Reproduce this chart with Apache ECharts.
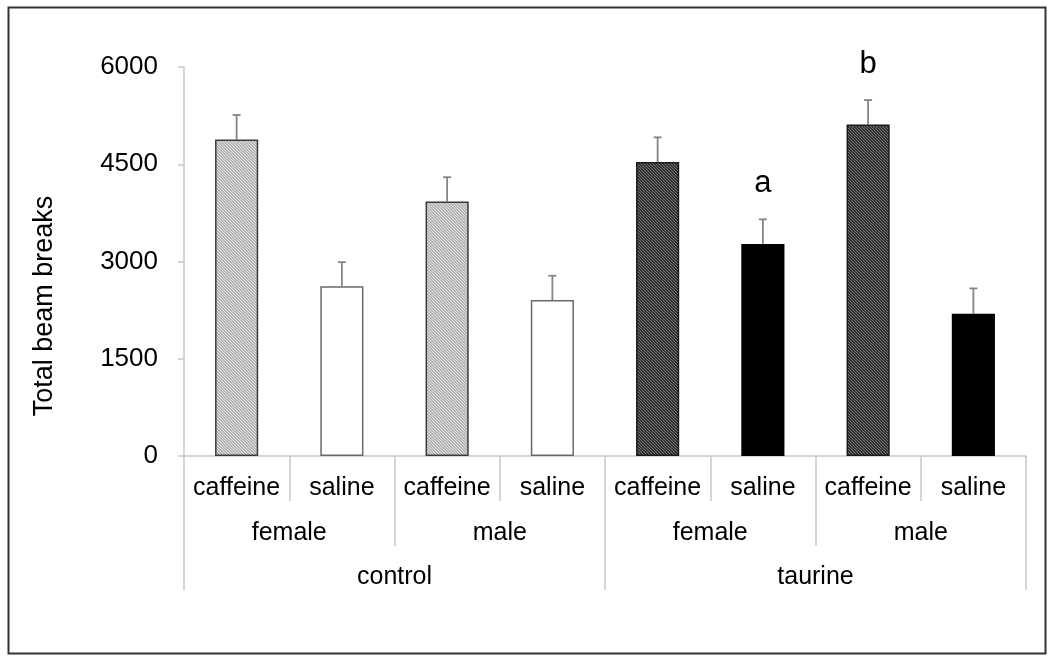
<!DOCTYPE html>
<html>
<head>
<meta charset="utf-8">
<script src="https://cdn.jsdelivr.net/npm/echarts@6/dist/echarts.min.js"></script>
<style>
html,body{margin:0;padding:0;background:#fff;}
#chart{width:1050px;height:659px;}
</style>
</head>
<body>
<div id="chart"></div>
<script>
// ---- data ----
var drugs = ['caffeine', 'saline', 'caffeine', 'saline', 'caffeine', 'saline', 'caffeine', 'saline'];
var sexes = ['female', 'male', 'female', 'male'];
var treatments = ['control', 'taurine'];
var means = [4880, 2620, 3925, 2405, 4535, 3270, 5115, 2195];
var errors = [380, 370, 375, 375, 380, 380, 375, 390];
var sigLetters = ['', '', '', '', '', 'a', 'b', ''];
var yTicks = [0, 1500, 3000, 4500, 6000];
var yTitle = 'Total beam breaks';

// ---- patterns ----
function hatch(bg, fg) {
  var c = document.createElement('canvas');
  c.width = 3; c.height = 3;
  var g = c.getContext('2d');
  g.fillStyle = bg; g.fillRect(0, 0, 3, 3);
  g.fillStyle = fg;
  for (var i = 0; i < 3; i++) g.fillRect(i, i, 1, 1);
  return { image: c, repeat: 'repeat' };
}
var styles = {
  'control-caffeine': { color: hatch('#b2b2b2', '#e6e6e6'), borderColor: '#3a3a3a' },
  'control-saline': { color: '#ffffff', borderColor: '#6a6a6a' },
  'taurine-caffeine': { color: hatch('#2e2e2e', '#7a7a7a'), borderColor: '#1a1a1a' },
  'taurine-saline': { color: '#000000', borderColor: '#000000' }
};

var barData = means.map(function (v, i) {
  var t = treatments[Math.floor(i / 4)];
  var s = styles[t + '-' + drugs[i]];
  return { value: v, itemStyle: { color: s.color, borderColor: s.borderColor, borderWidth: 1.5 } };
});
var errData = means.map(function (v, i) { return [i, v, v + errors[i], sigLetters[i]]; });

var FONT = 'Liberation Sans, Arial, sans-serif';
var chart = echarts.init(document.getElementById('chart'), null, { renderer: 'canvas' });
chart.setOption({
  animation: false,
  backgroundColor: '#fff',
  graphic: [{
    type: 'rect', left: 6, top: 5, z: -1,
    shape: { width: 1037, height: 646 },
    style: { fill: 'none', stroke: '#333', lineWidth: 2 }
  }, {
    type: 'text', x: 45, y: 306, rotation: Math.PI / 2,
    style: { text: yTitle, fontFamily: FONT, fontSize: 27, fill: '#000', align: 'center', verticalAlign: 'middle' }
  }],
  grid: { left: 184, right: 24, top: 67, bottom: 203 },
  xAxis: [{
    type: 'category', data: drugs, position: 'bottom',
    axisLine: { lineStyle: { color: '#c8c8c8', width: 1.5 } },
    axisTick: { show: true, interval: 0, length: 45, lineStyle: { color: '#c8c8c8', width: 1.5 } },
    axisLabel: { interval: 0, margin: 20, fontFamily: FONT, fontSize: 25, color: '#000' }
  }, {
    type: 'category', data: sexes, position: 'bottom',
    axisLine: { show: false },
    axisTick: { show: true, interval: 0, length: 90, lineStyle: { color: '#c8c8c8', width: 1.5 } },
    axisLabel: { interval: 0, margin: 65, fontFamily: FONT, fontSize: 25, color: '#000' }
  }, {
    type: 'category', data: treatments, position: 'bottom',
    axisLine: { show: false },
    axisTick: { show: true, interval: 0, length: 134, lineStyle: { color: '#c8c8c8', width: 1.5 } },
    axisLabel: { interval: 0, margin: 109, fontFamily: FONT, fontSize: 25, color: '#000' }
  }],
  yAxis: {
    type: 'value', min: yTicks[0], max: yTicks[yTicks.length - 1], interval: yTicks[1] - yTicks[0],
    axisLine: { show: true, lineStyle: { color: '#c8c8c8', width: 1.5 } },
    axisTick: { show: true, length: 6, lineStyle: { color: '#c8c8c8', width: 1.5 } },
    splitLine: { show: false },
    axisLabel: { margin: 26, fontFamily: FONT, fontSize: 26, color: '#000', formatter: function (v) { return String(v); } }
  },
  series: [{
    type: 'bar', xAxisIndex: 0, barWidth: '41%', data: barData, z: 2
  }, {
    type: 'custom', xAxisIndex: 0, z: 1, data: errData,
    renderItem: function (params, api) {
      var x = api.value(0);
      var top = api.coord([x, api.value(2)]);
      var base = api.coord([x, api.value(1)]);
      var cap = 4;
      var children = [{
        type: 'line', shape: { x1: top[0], y1: top[1], x2: base[0], y2: base[1] },
        style: { stroke: '#858585', lineWidth: 1.8 }
      }, {
        type: 'line', shape: { x1: top[0] - cap, y1: top[1], x2: top[0] + cap, y2: top[1] },
        style: { stroke: '#858585', lineWidth: 1.8 }
      }];
      var letter = api.value(3);
      if (letter) {
        children.push({
          type: 'text', x: top[0], y: top[1] - 20,
          style: { text: letter, fontFamily: FONT, fontSize: 31, fill: '#000', align: 'center', verticalAlign: 'bottom' }
        });
      }
      return { type: 'group', children: children };
    }
  }]
});
</script>
</body>
</html>
